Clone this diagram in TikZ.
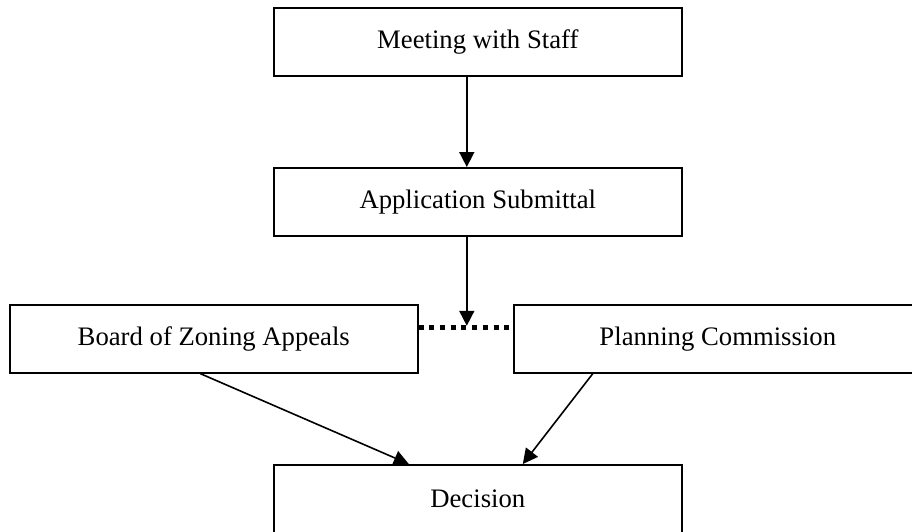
\documentclass[tikz,border=0pt]{standalone}
\usepackage{fontspec}
\setmainfont{Liberation Serif}
\usetikzlibrary{arrows.meta}
\begin{document}
\begin{tikzpicture}[x=1pt,y=-1pt,
  box/.style={draw, line width=1.6pt, minimum width=408pt, minimum height=68pt,
    inner sep=0pt, font=\fontsize{26.7}{32}\selectfont, anchor=north west},
  arr/.style={line width=1.6pt, -{Triangle[length=15pt,width=15pt]}},
  dotline/.style={line width=5pt, dash pattern=on 5pt off 5.7pt}]
\useasboundingbox (0,0) rectangle (912,531);
\node[box] (m) at (273,7) {Meeting with Staff};
\node[box] (a) at (273,167) {Application Submittal};
\node[box] (b) at (9,304) {Board of Zoning Appeals};
\node[box] (p) at (513,304) {Planning Commission};
\node[box] (d) at (273,464) {Decision};
\coordinate (dl) at ([yshift=11pt]b.east);
\coordinate (dr) at ([yshift=11pt]p.west);
\coordinate (as) at ([xshift=-11pt]a.south);
\draw[dotline] (dl) -- (dr);
\draw[arr] ([xshift=-11pt]m.south) -- ([xshift=-11pt]a.north);
\draw[arr, shorten >=2pt] (as) -- (as |- dl);
\draw[arr] ([xshift=-13.5pt]b.south) -- ([xshift=-69pt]d.north);
\draw[arr] ([xshift=-125pt]p.south) -- ([xshift=45pt]d.north);
\end{tikzpicture}
\end{document}
